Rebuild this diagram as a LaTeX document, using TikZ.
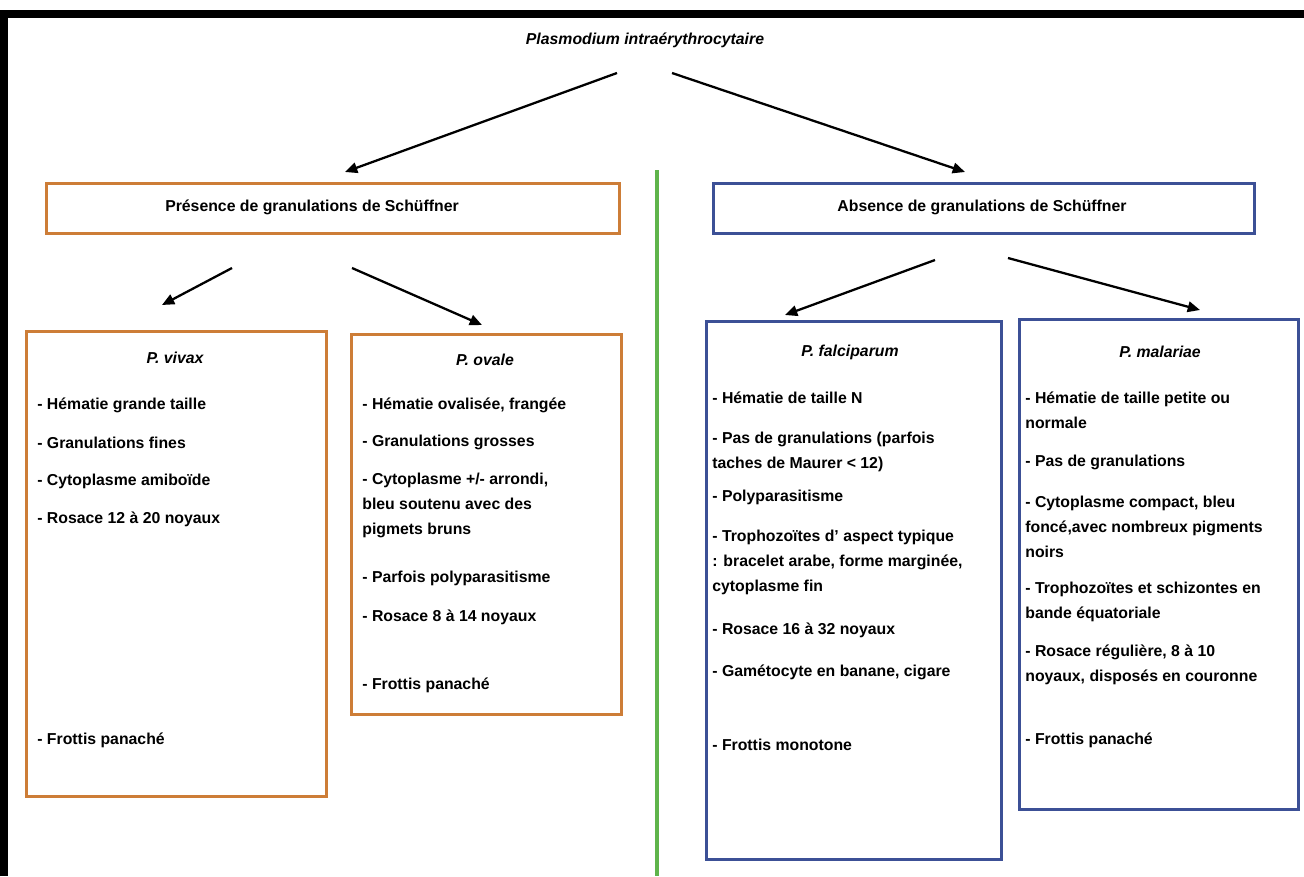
\documentclass[tikz,border=0pt]{standalone}
\usepackage{fontspec}
\setmainfont{Liberation Sans}
\usetikzlibrary{positioning, arrows.meta}

\definecolor{orbox}{RGB}{205,125,55}
\definecolor{blbox}{RGB}{60,80,150}
\definecolor{grline}{RGB}{95,180,75}

\begin{document}
\begin{tikzpicture}[x=0.02cm, y=-0.02cm,
		every node/.style = {font=\fontsize{9}{14.2}\selectfont\bfseries, inner sep=0pt},
		arr/.style = {draw=black, line width=1.3pt, -{Triangle[length=7pt, width=6pt]}},
		obox/.style args = {#1/#2}{%
		rectangle, draw=orbox, line width=1.8pt, fill=white,
		anchor=north west, minimum width=#1cm, minimum height=#2cm},
		bbox/.style args = {#1/#2}{%
		rectangle, draw=blbox, line width=1.8pt, fill=white,
		anchor=north west, minimum width=#1cm, minimum height=#2cm},
		ttl/.style = {font=\fontsize{9}{14.2}\selectfont\bfseries\itshape},
		itm/.style = {anchor=west, align=left}
                    ]
		\useasboundingbox (0,0) rectangle (1304,876);
		% frame
		\draw[line width=4pt] (4,876) -- (4,14) -- (1304,14);
		\draw[grline, line width=2.2pt] (657,170) -- (657,876);

		\node(root) [ttl] at (645,40) {Plasmodium intraérythrocytaire};

		\node(pres) [obox=11.46/1] at (45,182) {};
		\node(abs) [bbox=10.82/1] at (712,182) {};
		\node(presT) at (312,207) {Présence de granulations de Schüffner};
		\node(absT) at (982,207) {Absence de granulations de Schüffner};

		\node(vivax) [obox=6/9.3] at (25,330) {};
		\node(ovale) [obox=5.4/7.6] at (350,333) {};
		\node(falci) [bbox=5.9/10.76] at (705,320) {};
		\node(malar) [bbox=5.58/9.8] at (1018,318) {};

		% arrows
		\coordinate(r1) at (617,73);
		\coordinate(r2) at (672,73);
		\coordinate(p1) at (345,172);
		\coordinate(a1) at (965,172);
		\coordinate(ps1) at (232,268);
		\coordinate(ps2) at (352,268);
		\coordinate(v1) at (162,305);
		\coordinate(o1) at (482,325);
		\coordinate(as1) at (935,260);
		\coordinate(as2) at (1008,258);
		\coordinate(f1) at (785,315);
		\coordinate(m1) at (1200,310);
		\draw[arr] (r1) -- (p1);
		\draw[arr] (r2) -- (a1);
		\draw[arr] (ps1) -- (v1);
		\draw[arr] (ps2) -- (o1);
		\draw[arr] (as1) -- (f1);
		\draw[arr] (as2) -- (m1);

		% P. vivax
		\node(vivaxT) [ttl] at (175,358) {P. vivax};
		\node(v1a) [itm] at (37,405) {- Hématie grande taille};
		\node(v1b) [itm] at (37,443) {- Granulations fines};
		\node(v1c) [itm] at (37,481) {- Cytoplasme amiboïde};
		\node(v1d) [itm] at (37,519) {- Rosace 12 à 20 noyaux};
		\node(v1e) [itm] at (37,740) {- Frottis panaché};

		% P. ovale
		\node(ovaleT) [ttl] at (485,360) {P. ovale};
		\node(o1a) [itm] at (362,405) {- Hématie ovalisée, frangée};
		\node(o1b) [itm] at (362,442) {- Granulations grosses};
		\node(o1c) [itm] at (362,505) {- Cytoplasme +/- arrondi,\\bleu soutenu avec des\\pigmets bruns};
		\node(o1d) [itm] at (362,578) {- Parfois polyparasitisme};
		\node(o1e) [itm] at (362,617) {- Rosace 8 à 14 noyaux};
		\node(o1f) [itm] at (362,685) {- Frottis panaché};

		% P. falciparum
		\node(falciT) [ttl] at (850,352) {P. falciparum};
		\node(f1a) [itm] at (712,398) {- Hématie de taille N};
		\node(f1b) [itm] at (712,452) {- Pas de granulations (parfois\\taches de Maurer < 12)};
		\node(f1c) [itm] at (712,497) {- Polyparasitisme};
		\node(f1d) [itm] at (712,562) {- Trophozoïtes d' aspect typique\\: bracelet arabe, forme marginée,\\cytoplasme fin};
		\node(f1e) [itm] at (712,630) {- Rosace 16 à 32 noyaux};
		\node(f1f) [itm] at (712,672) {- Gamétocyte en banane, cigare};
		\node(f1g) [itm] at (712,745) {- Frottis monotone};

		% P. malariae
		\node(malarT) [ttl] at (1160,352) {P. malariae};
		\node(m1a) [itm] at (1025,410) {- Hématie de taille petite ou\\normale};
		\node(m1b) [itm] at (1025,462) {- Pas de granulations};
		\node(m1c) [itm] at (1025,527) {- Cytoplasme compact, bleu\\foncé,avec nombreux pigments\\noirs};
		\node(m1d) [itm] at (1025,602) {- Trophozoïtes et schizontes en\\bande équatoriale};
		\node(m1e) [itm] at (1025,665) {- Rosace régulière, 8 à 10\\noyaux, disposés en couronne};
		\node(m1f) [itm] at (1025,740) {- Frottis panaché};
	\end{tikzpicture}
\end{document}
